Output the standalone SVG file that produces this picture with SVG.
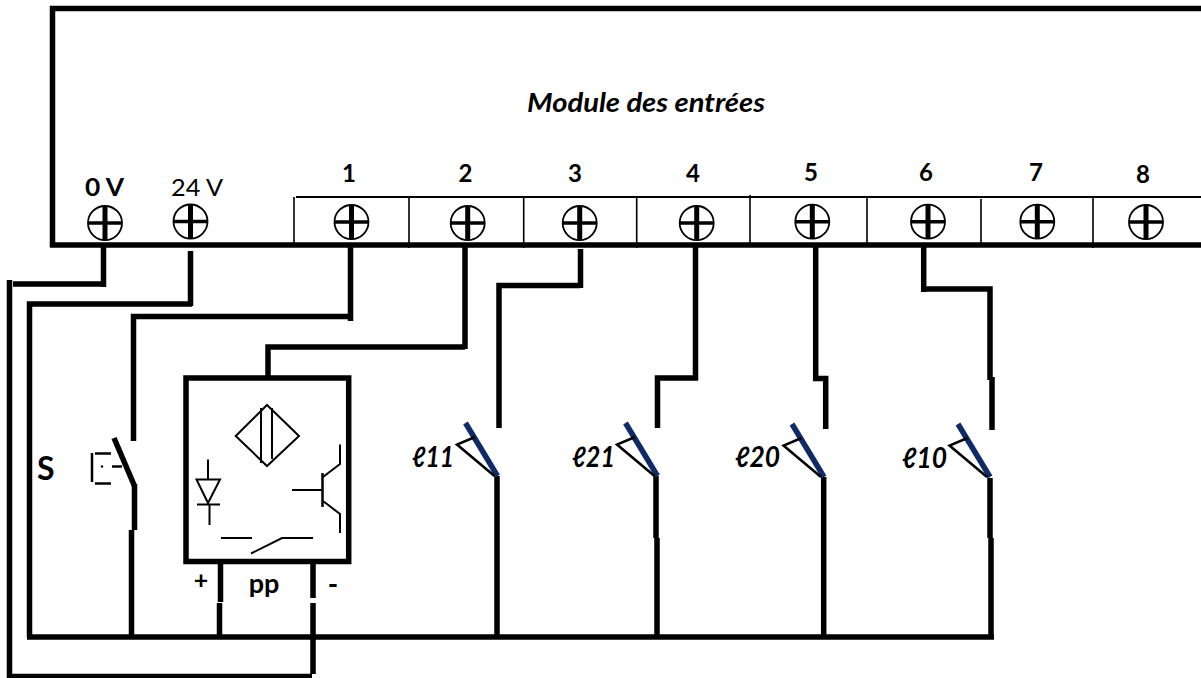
<svg xmlns="http://www.w3.org/2000/svg" width="1201" height="678" viewBox="0 0 1201 678">
<style>
.w{fill:none;stroke:#000;stroke-width:5.5;stroke-linejoin:miter;stroke-linecap:butt}
.f{fill:none;stroke:#000;stroke-width:5.5}
.t{fill:none;stroke:#000;stroke-width:1.6}
.s{fill:none;stroke:#000;stroke-width:2}
.c{fill:#fff;stroke:#000;stroke-width:1.8}
.h{stroke:#000;stroke-width:3.5}
.v{stroke:#000;stroke-width:5}
.b{fill:none;stroke:#0f2a66;stroke-width:5.5}
.a{fill:none;stroke:#000;stroke-width:2.5}
text{font-family:Lato,"Open Sans","Liberation Sans",sans-serif;fill:#000}
.n{font-size:24px;font-weight:700;text-anchor:middle}
.l{font-size:28px;font-weight:700;font-style:italic}
</style>
<defs>
<g id="screw"><circle class="c" r="17"/><path class="h" d="M-17 0H17"/><path class="v" d="M0 -17V17"/></g>
<g id="nc"><path class="b" d="M0 0L32 53"/><path class="a" d="M9.500 14L-8.500 21.500L29 53"/></g>
</defs>
<g id="module">
<path class="f" d="M1201 8.500H52.500V245H1201"/>
<path class="t" style="stroke-width:2" d="M296 197H1201"/>
<path class="t" d="M294 197V243M409 197V248M523.700 197V248M636.700 197V248M750 195V243M867 196V243M981 199V243M1093 197V248"/>
<text x="527" y="112" textLength="238" lengthAdjust="spacingAndGlyphs" style="font-size:27px;font-weight:700;font-style:italic">Module des entrées</text>
</g>
<g id="t0v"><use href="#screw" x="105" y="223"/><text x="85" y="196" textLength="39" lengthAdjust="spacingAndGlyphs" style="font-size:24px;font-weight:700">0 V</text></g>
<g id="t24v"><use href="#screw" x="190.500" y="221.500"/><text x="171" y="196" textLength="52" lengthAdjust="spacingAndGlyphs" style="font-size:24px">24 V</text></g>
<g id="t1"><use href="#screw" x="351.500" y="222"/><text class="n" x="349" y="182">1</text></g>
<g id="t2"><use href="#screw" x="467.700" y="223"/><text class="n" x="465.500" y="182">2</text></g>
<g id="t3"><use href="#screw" x="579.700" y="223"/><text class="n" x="575" y="182">3</text></g>
<g id="t4"><use href="#screw" x="696.700" y="223"/><text class="n" x="693" y="182">4</text></g>
<g id="t5"><use href="#screw" x="812.300" y="221.700"/><text class="n" x="811" y="181">5</text></g>
<g id="t6"><use href="#screw" x="928" y="221.700"/><text class="n" x="926" y="181">6</text></g>
<g id="t7"><use href="#screw" x="1037.300" y="221.700"/><text class="n" x="1036" y="181">7</text></g>
<g id="t8"><use href="#screw" x="1146" y="222"/><text class="n" x="1143" y="183">8</text></g>
<g id="connectors">
<path class="w" d="M103.500 245V287M106 284H13M9.500 280V676.500H312M313 603V674"/>
<path class="w" d="M190.500 251V306M192 304H29.500V637"/>
<path class="w" d="M350.500 245V321M350 316.500H133.500V441"/>
<path class="w" d="M465 245V349M465 347H268V376"/>
<path class="w" d="M580.500 249V288M580 285.500H499V428"/>
<path class="w" d="M695.500 245V378H657.500V428"/>
<path class="w" d="M815.700 245V378.500H825.700V429"/>
<path class="w" d="M923.700 245V292M922 289H990V380M992 377V430"/>
<path class="w" d="M27 637H994"/>
<path class="w" d="M134.500 484V530M131.500 530V637"/>
<path class="w" d="M220.500 564V602M219.500 603V637M313 564V598"/>
<path class="w" d="M497 476V637M656 476V538M657 538V637M823.700 477V637M990 478V538M991 538V637"/>
</g>
<g id="switch-s">
<path class="w" d="M114 438L134.500 486"/>
<path class="s" style="stroke-width:2.500" d="M111 453.500H95M92 453V482M95 483.500H111M112 466.500H122"/>
<circle cx="102" cy="466.500" r="1.200" fill="#000"/>
<text x="37" y="480" style="font-size:32px;font-weight:700">S</text>
</g>
<g id="sensor">
<rect class="f" x="186" y="378" width="162.700" height="183.500"/>
<path class="s" d="M267 405L299 436L267 466L235.700 436ZM261 408V463M272 408V459"/>
<path class="s" d="M208 459.500V479M196.500 479.500H220L208 503ZM197 504.500H220M209.500 505V525"/>
<path class="s" d="M292 490H322M340 444.500V464L323 477M323 501L340 514V533"/>
<path class="s" style="stroke-width:2.500" d="M322.500 473V507"/>
<path class="s" d="M221 538H252M251 553.500L282 538H313"/>
<text x="201" y="589" style="font-size:25px;font-weight:700;text-anchor:middle">+</text>
<text x="264" y="593" style="font-size:27px;font-weight:700;text-anchor:middle">pp</text>
<text x="333" y="594" style="font-size:28px;font-weight:700;text-anchor:middle">-</text>
</g>
<g id="l11"><use href="#nc" x="465.500" y="423"/><text class="l" x="412" y="467" textLength="42" lengthAdjust="spacingAndGlyphs">ℓ11</text></g>
<g id="l21"><use href="#nc" x="625.500" y="423"/><text class="l" x="572" y="467" textLength="43" lengthAdjust="spacingAndGlyphs">ℓ21</text></g>
<g id="l20"><use href="#nc" x="792" y="424"/><text class="l" x="735" y="467" textLength="45" lengthAdjust="spacingAndGlyphs">ℓ20</text></g>
<g id="l10"><use href="#nc" x="958" y="424"/><text class="l" x="902" y="468" textLength="45" lengthAdjust="spacingAndGlyphs">ℓ10</text></g>
</svg>
